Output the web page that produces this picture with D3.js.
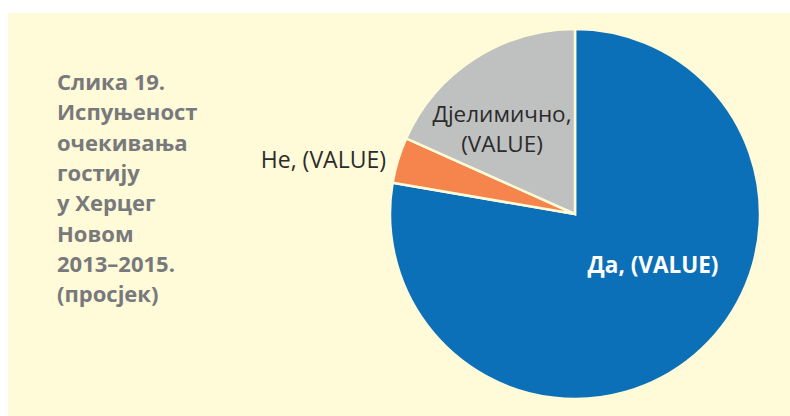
<!DOCTYPE html>
<html>
<head>
<meta charset="utf-8">
<script src="https://cdn.jsdelivr.net/npm/d3@7"></script>
<style>
  html, body { margin: 0; padding: 0; background: #ffffff; }
  svg { display: block; }
</style>
</head>
<body>
<svg id="chart" width="790" height="416"></svg>
<script>
// Slice categories, shares (%) and label texts, in drawing order (clockwise from 12 o'clock)
const categories = ["Да", "Не", "Дјелимично"];
const values = [77.7, 4.0, 18.3];
const labelLines = [["Да, (VALUE)"], ["Не, (VALUE)"], ["Дјелимично,", "(VALUE)"]];
const colors = ["#0b70b8", "#f5854d", "#bfc0c0"];
const titleLines = ["Слика 19.", "Испуњеност", "очекивања", "гостију", "у Херцег", "Новом", "2013–2015.", "(просјек)"];

const W = 790, H = 416;
const bg = "#fffad8";
const svg = d3.select("#chart");

// Panel background
svg.append("rect")
  .attr("x", 8).attr("y", 13)
  .attr("width", W - 8).attr("height", H - 13)
  .attr("fill", bg);

// Title block on the left
const title = svg.append("text")
  .attr("font-family", "'Open Sans', sans-serif")
  .attr("font-weight", 700)
  .attr("font-size", 22)
  .attr("fill", "#78797c");
titleLines.forEach((t, i) => {
  title.append("tspan").attr("x", 57).attr("y", 90 + i * 30.3).text(t);
});

// Pie
const cx = 575, cy = 214, r = 185;
const pie = d3.pie().sort(null).value(d => d.value).startAngle(0).endAngle(2 * Math.PI);
const data = categories.map((c, i) => ({ cat: c, value: values[i], color: colors[i], lines: labelLines[i] }));
const arcs = pie(data);
const arc = d3.arc().innerRadius(0).outerRadius(r);

const g = svg.append("g").attr("transform", `translate(${cx},${cy})`);
g.selectAll("path.slice")
  .data(arcs)
  .join("path")
  .attr("class", "slice")
  .attr("d", arc)
  .attr("fill", d => d.data.color)
  .attr("stroke", bg)
  .attr("stroke-width", 2.5)
  .attr("stroke-linejoin", "miter");

// Slice labels: anchor point, alignment and style per slice
const labelStyle = [
  { dx: 78, dy: 59, anchor: "middle", weight: 700, size: 22.5, fill: "#ffffff" },
  { dx: -189, dy: -46, anchor: "end", weight: 400, size: 23, fill: "#2b2b2b" },
  { dx: -73, dy: -92, anchor: "middle", weight: 400, size: 22.5, fill: "#2b2b2b" }
];
arcs.forEach((a, i) => {
  const s = labelStyle[i];
  const t = g.append("text")
    .attr("font-family", "'Open Sans', sans-serif")
    .attr("font-weight", s.weight)
    .attr("font-size", s.size)
    .attr("fill", s.fill)
    .attr("text-anchor", s.anchor);
  a.data.lines.forEach((line, j) => {
    t.append("tspan").attr("x", s.dx).attr("y", s.dy + j * 30).text(line);
  });
});
</script>
</body>
</html>
